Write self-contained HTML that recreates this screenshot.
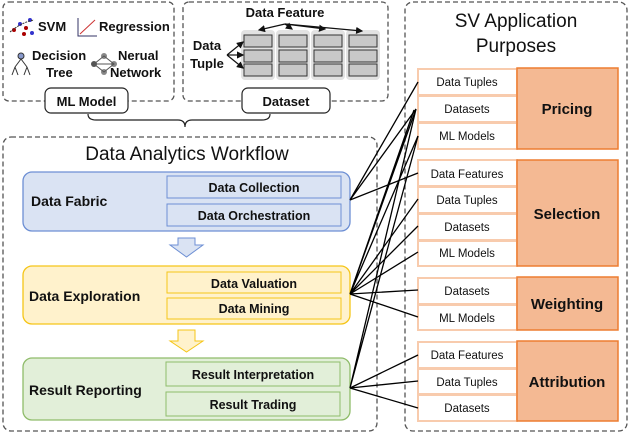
<!DOCTYPE html>
<html><head><style>body{margin:0;background:#fff}svg{display:block;font-family:"Liberation Sans",sans-serif}</style></head><body>
<svg width="630" height="434" viewBox="0 0 630 434" xmlns="http://www.w3.org/2000/svg">
<defs><marker id="ah" markerWidth="6" markerHeight="6" refX="5" refY="3" orient="auto"><path d="M0,0 L6,3 L0,6 Z" fill="#111"/></marker></defs>
<g fill="none" stroke="#555" stroke-width="1.3" stroke-dasharray="5,3">
<rect x="3" y="2" width="171" height="99" rx="6"/>
<rect x="183" y="2" width="205" height="99" rx="6"/>
<rect x="3" y="137" width="374" height="294" rx="8"/>
<rect x="405" y="2" width="222" height="429" rx="8"/>
</g>
<path d="M88,114 Q88,120 96,120 L178,120 Q185,120 185,127 Q185,120 192,120 L262,120 Q270,120 270,114" fill="none" stroke="#222" stroke-width="1.2"/>
<rect x="45" y="88" width="83" height="25" rx="6" fill="#fff" stroke="#222" stroke-width="1.2"/>
<text x="86.5" y="106" text-anchor="middle" font-size="13" font-weight="bold" fill="#111">ML Model</text>
<rect x="242" y="88" width="88" height="25" rx="6" fill="#fff" stroke="#222" stroke-width="1.2"/>
<text x="286" y="106" text-anchor="middle" font-size="13" font-weight="bold" fill="#111">Dataset</text>
<g font-size="13" font-weight="bold" fill="#111">
<text x="38" y="31">SVM</text>
<text x="99" y="31">Regression</text>
<text x="32" y="60">Decision</text>
<text x="46" y="77">Tree</text>
<text x="118" y="60">Nerual</text>
<text x="110" y="77">Network</text>
</g>
<g>
<circle cx="14" cy="30" r="2" fill="#a00"/><circle cx="20" cy="24" r="2" fill="#33c"/><circle cx="26" cy="28" r="2" fill="#a00"/><circle cx="30" cy="20" r="2" fill="#33c"/><circle cx="32" cy="33" r="2" fill="#33c"/><circle cx="24" cy="34" r="2" fill="#a00"/>
<path d="M10,32 Q22,22 34,20" stroke="#333" stroke-dasharray="2,1" fill="none"/>
<path d="M78,18 L78,36 L97,36" stroke="#336" fill="none"/><path d="M80,34 L95,20" stroke="#c33" fill="none"/>
<circle cx="21" cy="56" r="3" fill="#89c" stroke="#333"/><path d="M21,59 L15,67 M21,59 L27,67 M15,67 L12,75 M15,67 L18,75 M27,67 L24,75 M27,67 L30,75" stroke="#333" fill="none"/>
<circle cx="94" cy="64" r="3" fill="#555"/><circle cx="104" cy="56" r="3" fill="#888"/><circle cx="104" cy="72" r="3" fill="#888"/><circle cx="114" cy="64" r="3" fill="#888"/>
<path d="M94,64 L104,56 L114,64 L104,72 Z M94,64 L114,64" stroke="#555" fill="none"/>
</g>
<text x="285" y="17" text-anchor="middle" font-size="13" font-weight="bold" fill="#111">Data Feature</text>
<text x="207" y="50" text-anchor="middle" font-size="13" font-weight="bold" fill="#111">Data</text>
<text x="207" y="68" text-anchor="middle" font-size="13" font-weight="bold" fill="#111">Tuple</text>
<g fill="#e2e2e2"><rect x="241" y="30" width="34" height="50" rx="4"/><rect x="276" y="30" width="34" height="50" rx="4"/><rect x="311" y="30" width="34" height="50" rx="4"/><rect x="346" y="30" width="34" height="50" rx="4"/></g>
<g fill="#c8c8c8" stroke="#333" stroke-width="1">
<rect x="244" y="35" width="28" height="12"/><rect x="244" y="50" width="28" height="12"/><rect x="244" y="64" width="28" height="12"/>
<rect x="279" y="35" width="28" height="12"/><rect x="279" y="50" width="28" height="12"/><rect x="279" y="64" width="28" height="12"/>
<rect x="314" y="35" width="28" height="12"/><rect x="314" y="50" width="28" height="12"/><rect x="314" y="64" width="28" height="12"/>
<rect x="349" y="35" width="28" height="12"/><rect x="349" y="50" width="28" height="12"/><rect x="349" y="64" width="28" height="12"/>
</g>
<g stroke="#111" stroke-width="1.2" fill="none" marker-end="url(#ah)">
<path d="M285,24 L259,30"/><path d="M285,24 L292,29"/><path d="M285,24 L325,29"/><path d="M285,24 L362,31"/>
<path d="M227,55 L243,42"/><path d="M227,55 L243,55"/><path d="M227,55 L243,68"/>
</g>
<text x="187" y="160" text-anchor="middle" font-size="19" fill="#111">Data Analytics Workflow</text>
<rect x="23" y="172" width="327" height="59" rx="9" fill="#dae3f3" stroke="#6d8fd4" stroke-width="1.3"/>
<rect x="167" y="176" width="174" height="22" fill="#dae3f3" stroke="#6d8fd4"/>
<rect x="167" y="204" width="174" height="22" fill="#dae3f3" stroke="#6d8fd4"/>
<text x="31" y="206" font-size="14" font-weight="bold" fill="#111">Data Fabric</text>
<text x="254" y="192" text-anchor="middle" font-size="12.5" font-weight="bold" fill="#111">Data Collection</text>
<text x="254" y="220" text-anchor="middle" font-size="12.5" font-weight="bold" fill="#111">Data Orchestration</text>
<path d="M178,238 L195,238 L195,245 L203,245 L186.5,257 L170,245 L178,245 Z" fill="#dae3f3" stroke="#6d8fd4"/>
<rect x="23" y="266" width="327" height="58" rx="9" fill="#fff2cc" stroke="#f5c518" stroke-width="1.3"/>
<rect x="167" y="272" width="174" height="21" fill="#fff2cc" stroke="#f5c518"/>
<rect x="167" y="298" width="174" height="21" fill="#fff2cc" stroke="#f5c518"/>
<text x="29" y="301" font-size="14" font-weight="bold" fill="#111">Data Exploration</text>
<text x="254" y="288" text-anchor="middle" font-size="12.5" font-weight="bold" fill="#111">Data Valuation</text>
<text x="254" y="313" text-anchor="middle" font-size="12.5" font-weight="bold" fill="#111">Data Mining</text>
<path d="M178,330 L195,330 L195,341 L203,341 L186.5,352 L170,341 L178,341 Z" fill="#fff2cc" stroke="#f5c518"/>
<rect x="23" y="358" width="327" height="62" rx="9" fill="#e2efd9" stroke="#8fbc6a" stroke-width="1.3"/>
<rect x="166" y="362" width="174" height="24" fill="#e2efd9" stroke="#8fbc6a"/>
<rect x="166" y="392" width="174" height="24" fill="#e2efd9" stroke="#8fbc6a"/>
<text x="29" y="395" font-size="14" font-weight="bold" fill="#111">Result Reporting</text>
<text x="253" y="379" text-anchor="middle" font-size="12.5" font-weight="bold" fill="#111">Result Interpretation</text>
<text x="253" y="409" text-anchor="middle" font-size="12.5" font-weight="bold" fill="#111">Result Trading</text>
<text x="516" y="27" text-anchor="middle" font-size="19" fill="#111">SV Application</text>
<text x="516" y="52" text-anchor="middle" font-size="19" fill="#111">Purposes</text>
<g fill="#fff" stroke="#f8cbad" stroke-width="2">
<rect x="418" y="69" width="99" height="26"/><rect x="418" y="96" width="99" height="26"/><rect x="418" y="123" width="99" height="26"/>
<rect x="418" y="160" width="99" height="26"/><rect x="418" y="187" width="99" height="26"/><rect x="418" y="214" width="99" height="26"/><rect x="418" y="241" width="99" height="25"/>
<rect x="418" y="278" width="99" height="26"/><rect x="418" y="305" width="99" height="25"/>
<rect x="418" y="342" width="99" height="26"/><rect x="418" y="369" width="99" height="25"/><rect x="418" y="395" width="99" height="26"/>
</g>
<g fill="#f4b993" stroke="#ed7d31" stroke-width="1.5">
<rect x="517" y="68" width="101" height="81"/><rect x="517" y="160" width="101" height="106"/><rect x="517" y="277" width="101" height="53"/><rect x="517" y="341" width="101" height="80"/>
</g>
<g font-size="15" font-weight="bold" fill="#111" text-anchor="middle">
<text x="567" y="114">Pricing</text><text x="567" y="219">Selection</text><text x="567" y="309">Weighting</text><text x="567" y="387">Attribution</text>
</g>
<g font-size="11.5" fill="#111" text-anchor="middle">
<text x="467" y="86">Data Tuples</text><text x="467" y="113">Datasets</text><text x="467" y="140">ML Models</text>
<text x="467" y="178">Data Features</text><text x="467" y="204">Data Tuples</text><text x="467" y="231">Datasets</text><text x="467" y="257">ML Models</text>
<text x="467" y="295">Datasets</text><text x="467" y="322">ML Models</text>
<text x="467" y="359">Data Features</text><text x="467" y="386">Data Tuples</text><text x="467" y="412">Datasets</text>
</g>
<g stroke="#000" stroke-width="1.3" fill="none">
<path d="M350,200 L418,82 M350,200 L416,109 M350,200 L418,173"/>
<path d="M350,294 L416,109 M350,294 L418,136 M350,294 L414,110 M350,294 L418,199 M350,294 L418,226 M350,294 L418,252 M350,294 L418,290 M350,294 L418,317"/>
<path d="M350,388 L416,109 M350,388 L418,136 M350,388 L418,355 M350,388 L418,381 M350,388 L418,408"/>
</g>
</svg>
</body></html>
